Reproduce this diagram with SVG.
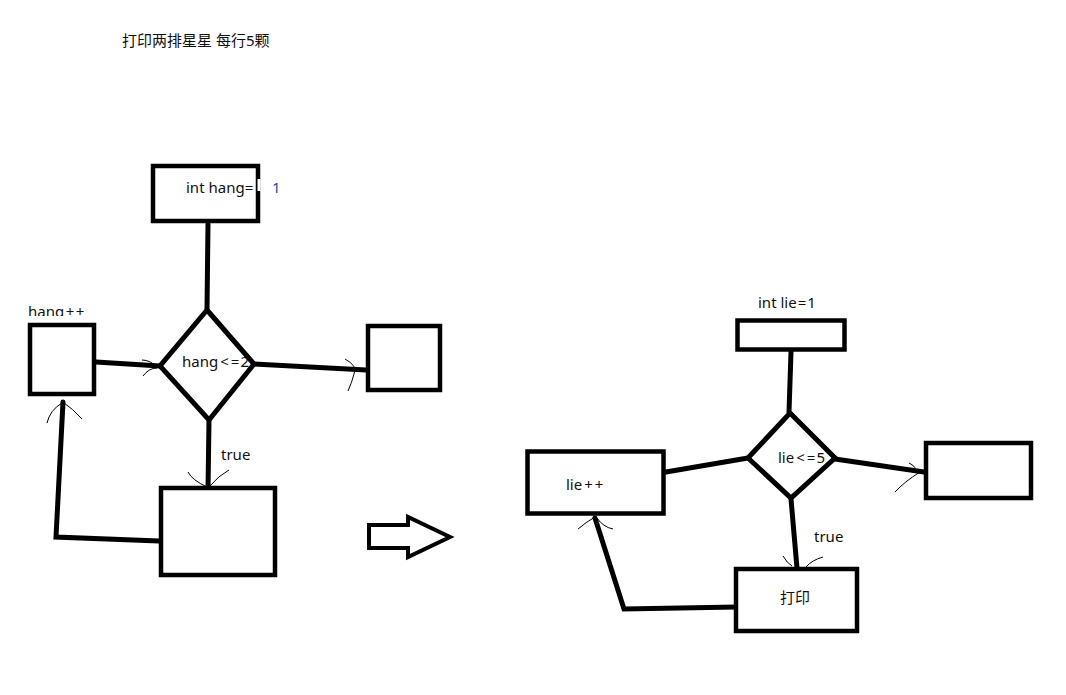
<svg xmlns="http://www.w3.org/2000/svg" width="1066" height="695" viewBox="0 0 1066 695">
<style>
.box{fill:#fff;stroke:#000;stroke-width:4.5}
.dia{fill:#fff;stroke:#000;stroke-width:5;stroke-linejoin:miter}
.ln{fill:none;stroke:#000;stroke-width:5;stroke-linecap:round}
.tk{fill:none;stroke:#000;stroke-width:1}
.t{font-family:"Noto Sans","Noto Sans CJK SC",sans-serif;font-size:15px;fill:#111}
</style>
<defs><clipPath id="c1"><rect x="0" y="290" width="120" height="26"/></clipPath></defs>
<rect width="1066" height="695" fill="#fff"/>
<text class="t" x="122" y="46">打印两排星星 每行5颗</text>

<g id="connectors">
<path class="ln" d="M208 224 L207 309"/>
<path class="ln" d="M96 362 L160 366"/>
<path class="ln" d="M254 364 L366 370"/>
<path class="ln" d="M209 421 L208 489"/>
<path class="ln" d="M159 541 L56 537 L63 402"/>
<path class="tk" d="M142 360 Q150 360 157 367 M143 376 Q149 368 157 368"/>
<path class="tk" d="M345 359 Q358 366 354 374 Q352 382 348 391"/>
<path class="tk" d="M188 472 Q192 480 207 487 M229 470 Q218 476 210 486"/>
<path class="tk" d="M47 423 Q50 410 62 403 M64 403 Q72 408 82 419"/>

<path class="ln" d="M791 352 L789 412"/>
<path class="ln" d="M666 472 L748 458"/>
<path class="ln" d="M835 459 L924 472"/>
<path class="ln" d="M791 499 L797 568"/>
<path class="ln" d="M737 607 L624 609 L595 518"/>
<path class="tk" d="M578 529 Q586 522 595 517 M597 518 Q603 527 613 529"/>
<path class="tk" d="M783 556 Q787 563 792 566 M823 557 Q812 560 806 567"/>
<path class="tk" d="M909 463 Q918 467 914 473 M895 492 Q904 482 920 472"/>
</g>

<g id="hang-init">
<rect class="box" x="153" y="166" width="105" height="55"/>
<rect x="257.5" y="179" width="3" height="12" fill="#fff"/>
<text class="t" x="186" y="193">int hang=</text>
<text class="t" x="272" y="193" style="fill:#1f4f9f">1</text>
</g>

<g id="hang-cond">
<polygon class="dia" points="207,310 254,364 209,420 160,366"/>
<text class="t" x="182" y="367">hang<tspan dx="2">&lt;</tspan><tspan dx="2">=</tspan><tspan dx="1">2</tspan></text>
</g>

<g id="hang-inc">
<rect class="box" x="30" y="325" width="64" height="69"/>
<text class="t" x="28" y="317" clip-path="url(#c1)">hang<tspan dx="1.5">+</tspan><tspan dx="1.5">+</tspan></text>
</g>

<g id="hang-end">
<rect class="box" x="368" y="326" width="72" height="64"/>
</g>

<g id="hang-body">
<rect class="box" x="161" y="488" width="114" height="87"/>
<text class="t" x="221" y="460">true</text>
</g>

<g id="big-arrow">
<polygon points="369,525 408,525 408,517 450,537 408,557 408,548 369,548" fill="#fff" stroke="#000" stroke-width="4" stroke-linejoin="miter"/>
</g>

<g id="lie-init">
<rect class="box" x="737.5" y="320.5" width="107" height="29"/>
<text class="t" x="758" y="308">int lie<tspan dx="1">=</tspan><tspan dx="1">1</tspan></text>
</g>

<g id="lie-cond">
<polygon class="dia" points="790,413 835,458 791,498 748,458"/>
<text class="t" x="778" y="463">lie<tspan dx="2">&lt;</tspan><tspan dx="2">=</tspan><tspan dx="1">5</tspan></text>
</g>

<g id="lie-inc">
<rect class="box" x="527.5" y="451.5" width="136" height="62"/>
<text class="t" x="566" y="490">lie<tspan dx="2">+</tspan><tspan dx="2">+</tspan></text>
</g>

<g id="lie-end">
<rect class="box" x="926" y="443" width="105" height="55"/>
</g>

<g id="lie-body">
<rect class="box" x="736" y="569" width="121" height="62"/>
<text class="t" x="780" y="603">打印</text>
<text class="t" x="814" y="542">true</text>
</g>
</svg>
